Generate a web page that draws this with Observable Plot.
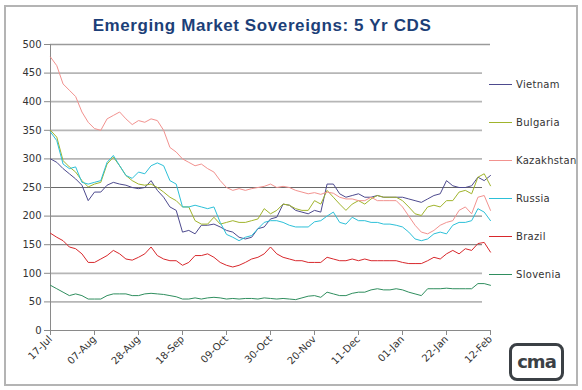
<!DOCTYPE html>
<html>
<head>
<meta charset="utf-8">
<script src="https://cdn.jsdelivr.net/npm/d3@7"></script>
<script src="https://cdn.jsdelivr.net/npm/@observablehq/plot@0.6"></script>
<style>
  body { margin: 0; background: #fff; }
  #wrap { position: relative; width: 582px; height: 390px; background: #fff; overflow: hidden; }
  #frame { position: absolute; left: 4px; top: 5px; width: 574px; height: 381px; border: 2px solid #b4b4b4; box-sizing: border-box; }
  #title { position: absolute; left: 0; width: 524px; top: 16px; text-align: center; font-family: "Liberation Sans", Arial, sans-serif; font-weight: bold; font-size: 17px; letter-spacing: 0.6px; color: #1c3f78; }
  #chart { position: absolute; left: 0; top: 0; }
  .leg { position: absolute; left: 489px; height: 14px; display: flex; align-items: center; font-family: "DejaVu Sans", sans-serif; font-size: 10px; color: #333; letter-spacing: 0.3px; }
  .leg i { display: inline-block; width: 23px; height: 1px; margin-right: 4px; }
  #logo { position: absolute; left: 509px; top: 343px; width: 55px; height: 38px; border: 3px solid #3b4045; border-radius: 8px; box-sizing: border-box; display: flex; align-items: center; justify-content: center; font-family: "DejaVu Sans", sans-serif; font-weight: bold; font-size: 18px; color: #3b4045; letter-spacing: -1px; padding-bottom: 2px; }
</style>
</head>
<body>
<div id="wrap">
  <div id="frame"></div>
  <div id="chart"></div>
  <div id="title">Emerging Market Sovereigns: 5 Yr CDS</div>
  <div id="legend"></div>
  <div id="logo">cma</div>
</div>
<script>
// Observation days (offset in days from 17-Jul-2009), every 3 days
const startDate = new Date(Date.UTC(2009, 6, 17));
const dayOffsets = d3.range(0, 211, 3);
const dates = dayOffsets.map(d => d3.utcDay.offset(startDate, d));

const seriesNames = ["Vietnam", "Bulgaria", "Kazakhstan", "Russia", "Brazil", "Slovenia"];
const seriesColors = ["#4d4a8e", "#a0b42c", "#f2928f", "#2cc0d8", "#d8282c", "#2f8e5e"];

const vietnam = [300,294,283,274,265,254,227,242,242,254, 259,256,254,250,248,250,262,245,233,216, 210,172,175,169,184,184,186,181,175,172, 163,160,163,178,181,195,198,221,219,210, 207,204,210,207,256,256,239,233,236,239, 233,233,236,233,233,233,233,230,227,224, 230,236,239,262,253,250,250,253,268,262, 271];
const bulgaria = [350,338,297,286,277,262,251,256,259,291, 303,288,271,262,256,254,256,250,242,233, 227,216,216,192,186,186,198,186,189,192, 189,189,192,195,213,204,210,221,219,213, 210,210,227,221,245,233,221,210,221,227, 221,230,236,233,233,233,227,216,204,201, 216,219,216,227,227,242,245,239,268,274, 253];
const kazakhstan = [478,463,431,420,409,382,364,353,350,370, 376,382,370,360,367,364,370,367,350,320, 312,300,294,288,291,283,277,262,250,245, 248,245,248,250,252,256,250,252,250,245, 242,239,241,238,242,240,233,230,230,227, 227,233,227,227,227,227,216,200,184,172, 169,175,184,189,192,210,216,204,233,236, 210];
const russia = [347,332,291,283,286,259,256,259,262,294, 306,288,271,266,277,274,288,293,288,262, 256,216,216,219,216,213,216,189,168,163, 157,163,166,178,189,192,192,189,184,181, 181,181,190,192,200,207,189,186,198,192, 192,189,189,186,186,184,181,172,160,157, 160,169,172,169,184,189,189,192,213,207, 192];
const brazil = [170,163,157,146,143,134,119,119,125,131, 140,134,125,123,128,134,146,131,125,122, 122,114,119,131,131,134,128,119,114,111, 114,119,125,128,134,146,134,128,125,122, 122,119,119,119,128,125,122,122,125,122, 125,122,122,122,122,122,119,117,117,117, 122,128,125,134,140,134,143,140,152,154, 137];
const slovenia = [79,73,67,61,64,61,55,55,55,61, 64,64,64,61,61,64,65,64,63,61, 59,55,55,57,55,57,58,57,55,56, 55,56,56,55,57,56,55,56,55,54, 57,60,61,58,67,64,61,61,65,67, 67,71,73,71,71,73,71,67,64,61, 73,73,73,74,73,73,73,73,82,82, 79];

const yTicks = [0, 50, 100, 150, 200, 250, 300, 350, 400, 450, 500];
const xTickLabels = ["17-Jul","07-Aug","28-Aug","18-Sep","09-Oct","30-Oct","20-Nov","11-Dec","01-Jan","22-Jan","12-Feb"];

const seriesValues = [vietnam, bulgaria, kazakhstan, russia, brazil, slovenia];
const rows = [];
seriesNames.forEach((name, k) => {
  seriesValues[k].forEach((v, i) => rows.push({country: name, date: dates[i], value: v}));
});

const xTicks = xTickLabels.map((_, i) => d3.utcDay.offset(startDate, 21 * i));
const xDomain = [startDate, xTicks[xTicks.length - 1]];

const lightGrid = [50, 100, 300, 350, 400, 450];
const darkGrid = [150, 200, 250];

const chart = Plot.plot({
  width: 582,
  height: 390,
  marginLeft: 50,
  marginRight: 92,
  marginTop: 44,
  marginBottom: 60,
  style: {fontFamily: "DejaVu Sans, sans-serif", fontSize: "10px", color: "#333", background: "transparent", overflow: "visible"},
  x: {type: "utc", domain: xDomain},
  y: {domain: [0, 500]},
  color: {domain: seriesNames, range: seriesColors},
  marks: [
    Plot.ruleY(lightGrid, {stroke: "#b6b6b6", strokeWidth: 1.8, insetRight: 8}),
    Plot.ruleY(darkGrid, {stroke: "#6a6a6a", strokeWidth: 1, insetRight: 8}),
    Plot.ruleY([500], {stroke: "#9a9a9a", strokeWidth: 1.4}),
    Plot.ruleY([0], {stroke: "#8a8a8a", strokeWidth: 1}),
    Plot.ruleX([startDate], {stroke: "#8a8a8a", strokeWidth: 1}),
    Plot.axisY({ticks: yTicks, tickSize: 6, tickPadding: 3, stroke: "#8a8a8a", fill: "#333", label: null}),
    Plot.axisX({ticks: xTicks, tickFormat: (d, i) => xTickLabels[i], tickSize: 5, tickPadding: 2, tickRotate: -45, stroke: "#8a8a8a", fill: "#333", label: null}),
    Plot.lineY(rows, {x: "date", y: "value", z: "country", stroke: "country", strokeWidth: 1})
  ]
});
document.getElementById("chart").appendChild(chart);

const legendY = [84, 122, 160, 198, 236, 274];
const legend = document.getElementById("legend");
seriesNames.forEach((name, k) => {
  const div = document.createElement("div");
  div.className = "leg";
  div.style.top = (legendY[k] - 7) + "px";
  const sw = document.createElement("i");
  sw.style.background = seriesColors[k];
  div.appendChild(sw);
  div.appendChild(document.createTextNode(name));
  legend.appendChild(div);
});
</script>
</body>
</html>
